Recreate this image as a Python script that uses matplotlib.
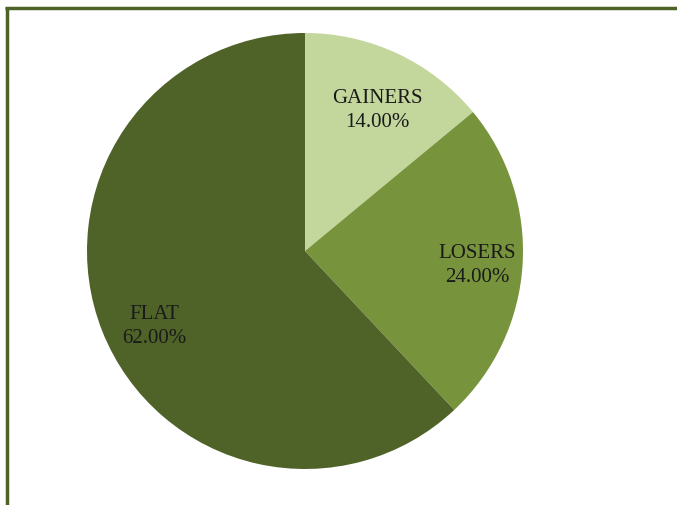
import matplotlib
matplotlib.use("Agg")
import matplotlib.pyplot as plt
from matplotlib.lines import Line2D

labels = ["GAINERS", "LOSERS", "FLAT"]
values = [14.0, 24.0, 62.0]
colors = ["#c3d69b", "#77933c", "#4f6228"]
# label anchor points in pie-radius units
label_pos = [(0.33, 0.65), (0.79, -0.06), (-0.69, -0.34)]

W, H = 677, 506
fig = plt.figure(figsize=(W / 100, H / 100), dpi=100)

cx, cy, r = 305, 252, 218
ax = fig.add_axes([(cx - r) / W, (H - cy - r) / H, 2 * r / W, 2 * r / H])
ax.pie(values, colors=colors, startangle=90, counterclock=False, radius=1,
       wedgeprops=dict(linewidth=0))
ax.set_xlim(-1, 1)
ax.set_ylim(-1, 1)
ax.set_aspect("equal")
ax.axis("off")

for lab, v, (x, y) in zip(labels, values, label_pos):
    ax.text(x, y, f"{lab}\n{v:.2f}%", ha="center", va="center",
            fontsize=15, family="Liberation Serif", color="#1a1a1a",
            linespacing=1.35)

# outer frame (top and left edges visible)
border = "#4f6228"
fig.add_artist(Line2D([5 / W, 1], [1 - 9 / H, 1 - 9 / H], transform=fig.transFigure,
                      color=border, linewidth=2.5, solid_capstyle="butt"))
fig.add_artist(Line2D([6.5 / W, 6.5 / W], [1 - 7.5 / H, 0], transform=fig.transFigure,
                      color=border, linewidth=2.5, solid_capstyle="butt"))

fig.savefig("out.png", dpi=100)
